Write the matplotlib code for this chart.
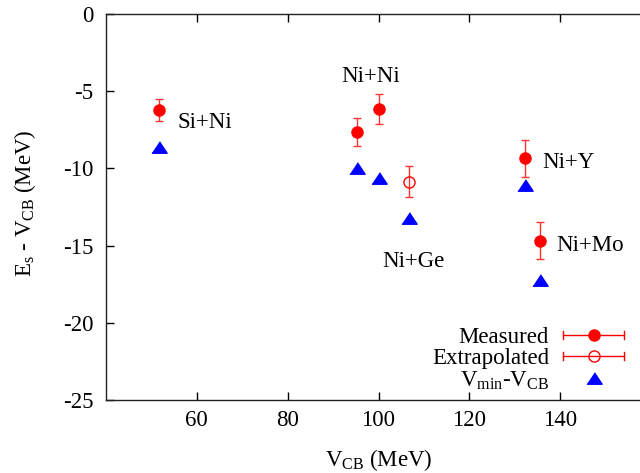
import matplotlib
matplotlib.use("Agg")
import matplotlib.pyplot as plt
from matplotlib.legend_handler import HandlerBase
from matplotlib.lines import Line2D

plt.rcParams["font.family"] = ["Liberation Serif", "DejaVu Serif"]
plt.rcParams["mathtext.fontset"] = "custom"
plt.rcParams["mathtext.rm"] = "Liberation Serif"
plt.rcParams["mathtext.it"] = "Liberation Serif:italic"
plt.rcParams["axes.unicode_minus"] = False

FS = 16.5

# Measured barrier shifts (Coulomb barrier in MeV, E_s - V_CB in MeV, error)
meas_vcb = [51.6, 95.3, 100.0, 132.2, 135.5]
meas_shift = [-6.2, -7.65, -6.15, -9.35, -14.7]
meas_err = [0.7, 0.9, 0.95, 1.2, 1.2]

# Extrapolated point
extra_vcb = [106.8]
extra_shift = [-10.85]
extra_err = [1.0]

# V_min - V_CB values
vmin_vcb = [51.6, 95.3, 100.0, 106.8, 132.2, 135.5]
vmin_shift = [-8.6, -9.95, -10.65, -13.2, -11.05, -17.25]

# System labels
sys_names = ["Si+Ni", "Ni+Ni", "Ni+Ge", "Ni+Y", "Ni+Mo"]
sys_x = [55.8, 91.9, 100.8, 136.1, 139.1]
sys_y = [-7.05, -4.05, -16.0, -9.6, -15.0]

x_ticks = [60, 80, 100, 120, 140]
y_ticks = [0, -5, -10, -15, -20, -25]

RED = "#ff0000"
BLUE = "#0000ff"
TRI = [(-1, -0.75), (1, -0.75), (0, 0.75)]


class HorizontalErrorbarHandler(HandlerBase):
    """Legend key drawn as a horizontal bar with end caps and a centre marker."""

    def create_artists(self, legend, orig_handle, xdescent, ydescent,
                       width, height, fontsize, trans):
        data_line = orig_handle[0]
        y = height / 2.0 - ydescent
        x0 = -xdescent
        x1 = x0 + width
        cap = 0.17 * fontsize
        color = data_line.get_color()
        artists = [
            Line2D([x0, x1], [y, y], color=color, lw=1.0),
            Line2D([x0, x0], [y - cap, y + cap], color=color, lw=1.0),
            Line2D([x1, x1], [y - cap, y + cap], color=color, lw=1.0),
            Line2D([(x0 + x1) / 2], [y], ls="none",
                   marker=data_line.get_marker(),
                   markersize=data_line.get_markersize(),
                   markerfacecolor=data_line.get_markerfacecolor(),
                   markeredgecolor=data_line.get_markeredgecolor(),
                   markeredgewidth=data_line.get_markeredgewidth()),
        ]
        for a in artists:
            a.set_transform(trans)
        return artists


fig = plt.figure(figsize=(6.4, 4.73), dpi=100)
ax = fig.add_axes([106 / 640, 73 / 473, 545 / 640, 386 / 473])

h_meas = ax.errorbar(meas_vcb, meas_shift, yerr=meas_err, fmt="o",
                     color=RED, ms=8, mec=RED, mfc=RED,
                     ecolor="#ff3333", elinewidth=1.0, capsize=3,
                     capthick=1.0, label="Measured", zorder=3)
h_extra = ax.errorbar(extra_vcb, extra_shift, yerr=extra_err, fmt="o",
                      color=RED, ms=8, mec=RED, mfc="none", mew=1.0,
                      ecolor="#ff3333", elinewidth=1.0, capsize=3,
                      capthick=1.0, label="Extrapolated", zorder=3)
h_vmin, = ax.plot(vmin_vcb, vmin_shift, ls="none", marker=TRI, ms=11,
                  color=BLUE, mec=BLUE, label=r"V$_{\rm min}$-V$_{\rm CB}$",
                  zorder=3)

for name, x, y in zip(sys_names, sys_x, sys_y):
    ax.text(x, y, name, fontsize=FS, ha="left", va="center")

ax.set_xlim(40, 160)
ax.set_ylim(-25, 0)
ax.set_xticks(x_ticks)
ax.set_yticks(y_ticks)
ax.tick_params(direction="in", length=6, width=1, top=True, right=True,
               labelsize=FS, colors="black")
ax.tick_params(axis="y", pad=9)
ax.tick_params(axis="x", pad=7)
for s in ax.spines.values():
    s.set_linewidth(1.0)
    s.set_color("#222222")

ax.set_xlabel(r"V$_{\rm CB}$ (MeV)", fontsize=FS)
ax.set_ylabel(r"E$_{\rm s}$ - V$_{\rm CB}$ (MeV)", fontsize=FS, va="center")
ax.yaxis.set_label_coords(-0.148, 0.51)
ax.xaxis.set_label_coords(0.5, -0.123)

leg = ax.legend([h_meas, h_extra, h_vmin],
                ["Measured", "Extrapolated", r"V$_{\rm min}$-V$_{\rm CB}$"],
                handler_map={type(h_meas): HorizontalErrorbarHandler()},
                loc="lower right", bbox_to_anchor=(1 - 27 / 545, 0.022),
                borderaxespad=0, borderpad=0, frameon=False, fontsize=FS,
                markerfirst=False, handlelength=2.65, handletextpad=0.62,
                labelspacing=0.0)
for t in leg.get_texts():
    t.set_ha("right")

fig.savefig("out.png", dpi=100)
